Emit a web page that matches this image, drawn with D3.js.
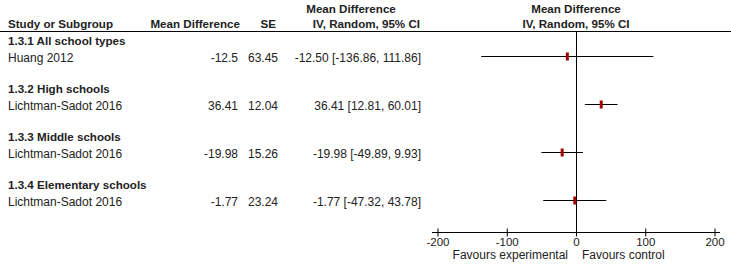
<!DOCTYPE html>
<html>
<head>
<meta charset="utf-8">
<script src="https://cdn.jsdelivr.net/npm/d3@7"></script>
<style>
  body { margin: 0; background: #fff; }
  svg text { font-family: "Liberation Sans", Arial, sans-serif; font-size: 12px; fill: #222; }
  svg text.bold { font-weight: bold; font-size: 11.6px; }
</style>
</head>
<body>
<svg id="chart" width="731" height="272"></svg>
<script>
// 数据
const subgroups = ["1.3.1 All school types", "1.3.2 High schools", "1.3.3 Middle schools", "1.3.4 Elementary schools"];
const studies = ["Huang 2012", "Lichtman-Sadot 2016", "Lichtman-Sadot 2016", "Lichtman-Sadot 2016"];
const meanDiff = [-12.5, 36.41, -19.98, -1.77];
const se = [63.45, 12.04, 15.26, 23.24];
const ciLow = [-136.86, 12.81, -49.89, -47.32];
const ciHigh = [111.86, 60.01, 9.93, 43.78];
const tickValues = [-200, -100, 0, 100, 200];

const svg = d3.select('#chart');
const W = 731;

// 比例尺
const x = d3.scaleLinear().domain([-200, 200]).range([437.5, 714.5]);
const rowY = d3.scaleLinear().domain([0, 1]).range([45, 93]); // 每组 48px

// d3 默认用 U+2212，原图是普通连字符
const fmt = v => d3.format('.2f')(v).replace('\u2212', '-');
const fmtInt = v => d3.format('d')(v).replace('\u2212', '-');

// 表头
const head = svg.append('g');
head.append('text').attr('class', 'bold').attr('x', 8).attr('y', 28).text('Study or Subgroup');
head.append('text').attr('class', 'bold').attr('x', 240).attr('y', 28).attr('text-anchor', 'end').text('Mean Difference');
head.append('text').attr('class', 'bold').attr('x', 276).attr('y', 28).attr('text-anchor', 'end').text('SE');
head.append('text').attr('class', 'bold').attr('x', 351).attr('y', 13).attr('text-anchor', 'middle').text('Mean Difference');
head.append('text').attr('class', 'bold').attr('x', 420).attr('y', 28).attr('text-anchor', 'end').text('IV, Random, 95% CI');
head.append('text').attr('class', 'bold').attr('x', x(0)).attr('y', 13).attr('text-anchor', 'middle').text('Mean Difference');
head.append('text').attr('class', 'bold').attr('x', x(0)).attr('y', 28).attr('text-anchor', 'middle').text('IV, Random, 95% CI');

svg.append('line')
  .attr('x1', 0).attr('x2', W).attr('y1', 31.5).attr('y2', 31.5)
  .attr('stroke', '#000');

// 零线
const axisY = 232.5;
svg.append('line')
  .attr('x1', Math.round(x(0)) + 0.5).attr('x2', Math.round(x(0)) + 0.5)
  .attr('y1', 32).attr('y2', axisY)
  .attr('stroke', '#000');

// 行
const rows = svg.append('g');
subgroups.forEach((name, i) => {
  const yH = rowY(i);
  const yS = yH + 17;
  rows.append('text').attr('class', 'bold').attr('x', 8).attr('y', yH).text(name);
  rows.append('text').attr('x', 8).attr('y', yS).text(studies[i]);
  rows.append('text').attr('x', 238).attr('y', yS).attr('text-anchor', 'end').text(meanDiff[i]);
  rows.append('text').attr('x', 278).attr('y', yS).attr('text-anchor', 'end').text(se[i]);
  rows.append('text').attr('x', 421).attr('y', yS).attr('text-anchor', 'end')
    .text(`${fmt(meanDiff[i])} [${fmt(ciLow[i])}, ${fmt(ciHigh[i])}]`);

  const yc = Math.round(yS - 6) + 0.5;
  rows.append('line')
    .attr('x1', x(ciLow[i])).attr('x2', x(ciHigh[i]))
    .attr('y1', yc).attr('y2', yc)
    .attr('stroke', '#000');
  rows.append('rect')
    .attr('x', x(meanDiff[i]) - 1.5).attr('y', yc - 4)
    .attr('width', 3).attr('height', 8)
    .attr('fill', '#a30000');
});

// 坐标轴
const axisG = svg.append('g').attr('transform', `translate(0,${axisY})`);
axisG.call(d3.axisBottom(x).tickValues(tickValues).tickFormat(fmtInt).tickSize(4).tickPadding(1));
axisG.select('.domain').remove();
axisG.append('line').attr('x1', x.range()[0] - 5.5).attr('x2', x.range()[1] + 5.5)
  .attr('y1', 0).attr('y2', 0).attr('stroke', '#000');
axisG.selectAll('.tick line').attr('y1', -4).attr('y2', 4).attr('stroke', '#000');
axisG.selectAll('.tick text')
  .attr('fill', '#222')
  .style('font-family', '"Liberation Sans", Arial, sans-serif')
  .style('font-size', '11.5px');

svg.append('text').attr('x', x(0) - 8).attr('y', 259).attr('text-anchor', 'end').text('Favours experimental');
svg.append('text').attr('x', x(0) + 6).attr('y', 259).text('Favours control');
</script>
</body>
</html>
